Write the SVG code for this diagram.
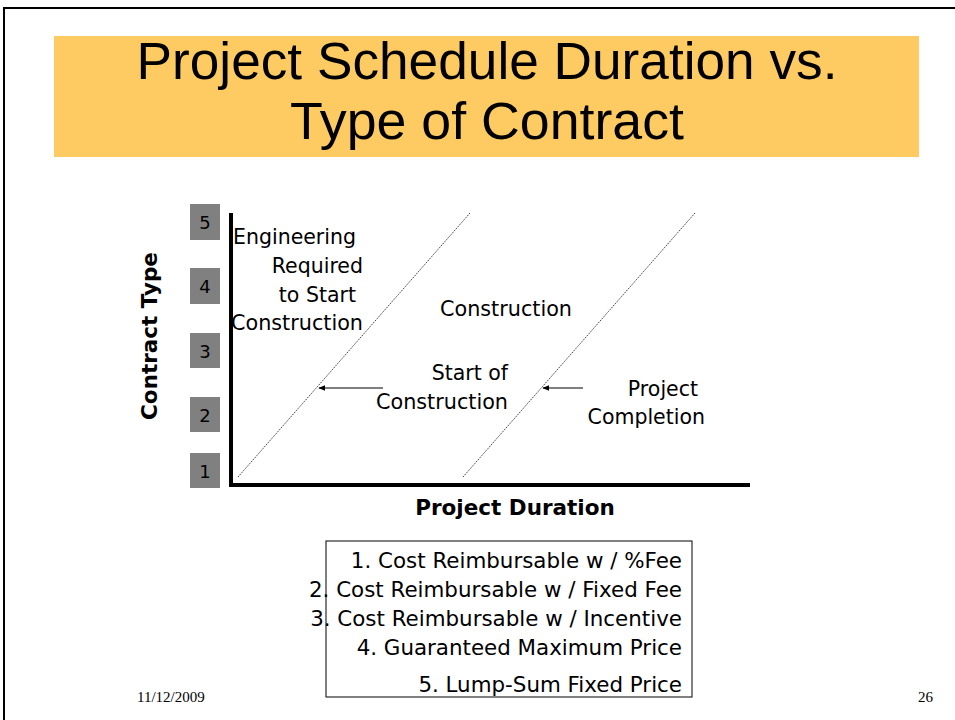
<svg xmlns="http://www.w3.org/2000/svg" width="955" height="720" viewBox="0 0 955 720">
<style>
.t{font-family:"DejaVu Sans","Liberation Sans",sans-serif;font-size:20.5px;fill:#000}
.l{font-family:"DejaVu Sans","Liberation Sans",sans-serif;font-size:21.4px;fill:#000;text-anchor:end}
.b{font-family:"DejaVu Sans","Liberation Sans",sans-serif;font-size:21.5px;font-weight:bold;fill:#000}
.n{font-family:"DejaVu Sans",sans-serif;font-size:18px;fill:#000;text-anchor:middle}
.f{font-family:"Liberation Serif",serif;font-size:15px;fill:#000}
.num{fill:#808080}
.diag{stroke:#444;stroke-width:1;stroke-dasharray:1.5 1}
.arr{stroke:#000;stroke-width:1.2;fill:none;marker-end:url(#ah)}
</style>
<defs>
<marker id="ah" viewBox="0 0 10 10" refX="9" refY="5" markerWidth="7" markerHeight="7" orient="auto" markerUnits="userSpaceOnUse">
<path d="M0,1 L10,5 L0,9 Z" fill="#000"/>
</marker>
</defs>
<rect width="955" height="720" fill="#fff"/>
<path d="M4,720 V8 H955" fill="none" stroke="#000" stroke-width="2"/>
<g id="title">
<rect x="54" y="36" width="865" height="121" fill="#FECB62"/>
<text x="487" y="79" text-anchor="middle" font-family="Liberation Sans,sans-serif" font-size="51" textLength="701" lengthAdjust="spacingAndGlyphs">Project Schedule Duration vs.</text>
<text x="487" y="139" text-anchor="middle" font-family="Liberation Sans,sans-serif" font-size="51" textLength="394" lengthAdjust="spacingAndGlyphs">Type of Contract</text>
</g>
<g id="axes">
<line x1="231" y1="213" x2="231" y2="487" stroke="#000" stroke-width="4"/>
<line x1="229" y1="485" x2="750" y2="485" stroke="#000" stroke-width="4"/>
<text class="b" transform="translate(157,336) rotate(-90)" text-anchor="middle">Contract Type</text>
<text class="b" x="515" y="515" text-anchor="middle">Project Duration</text>
</g>
<g id="scale">
<rect class="num" x="190" y="204" width="30" height="36"/><text class="n" x="205" y="229">5</text>
<rect class="num" x="190" y="268" width="30" height="36"/><text class="n" x="205" y="293">4</text>
<rect class="num" x="190" y="333" width="30" height="35"/><text class="n" x="205" y="358">3</text>
<rect class="num" x="190" y="397" width="30" height="35"/><text class="n" x="205" y="422">2</text>
<rect class="num" x="190" y="453" width="30" height="35"/><text class="n" x="205" y="478">1</text>
</g>
<g id="connectors">
<line class="diag" x1="238" y1="477" x2="470" y2="213"/>
<line class="diag" x1="463" y1="477" x2="695" y2="213"/>
<line class="arr" x1="383" y1="388" x2="319" y2="388"/>
<line class="arr" x1="583" y1="388" x2="543" y2="388"/>
</g>
<g id="labels">
<text class="t" x="233" y="244">Engineering</text>
<text class="t" x="363" y="273" text-anchor="end">Required</text>
<text class="t" x="356" y="302" text-anchor="end">to Start</text>
<text class="t" x="363" y="330" text-anchor="end" textLength="132" lengthAdjust="spacingAndGlyphs">Construction</text>
<text class="t" x="506" y="316" text-anchor="middle" textLength="132" lengthAdjust="spacingAndGlyphs">Construction</text>
<text class="t" x="508" y="380" text-anchor="end">Start of</text>
<text class="t" x="508" y="409" text-anchor="end" textLength="132" lengthAdjust="spacingAndGlyphs">Construction</text>
<text class="t" x="698" y="396" text-anchor="end">Project</text>
<text class="t" x="705" y="424" text-anchor="end">Completion</text>
</g>
<g id="legend">
<rect x="326" y="541" width="366" height="156" fill="none" stroke="#000" stroke-width="1"/>
<text class="l" x="682" y="568">1. Cost Reimbursable w / %Fee</text>
<text class="l" x="682" y="597">2. Cost Reimbursable w / Fixed Fee</text>
<text class="l" x="682" y="626">3. Cost Reimbursable w / Incentive</text>
<text class="l" x="682" y="655">4. Guaranteed Maximum Price</text>
<text class="l" x="682" y="692">5. Lump-Sum Fixed Price</text>
</g>
<g id="footer">
<text class="f" x="137" y="702">11/12/2009</text>
<text class="f" x="918" y="702">26</text>
</g>
</svg>
